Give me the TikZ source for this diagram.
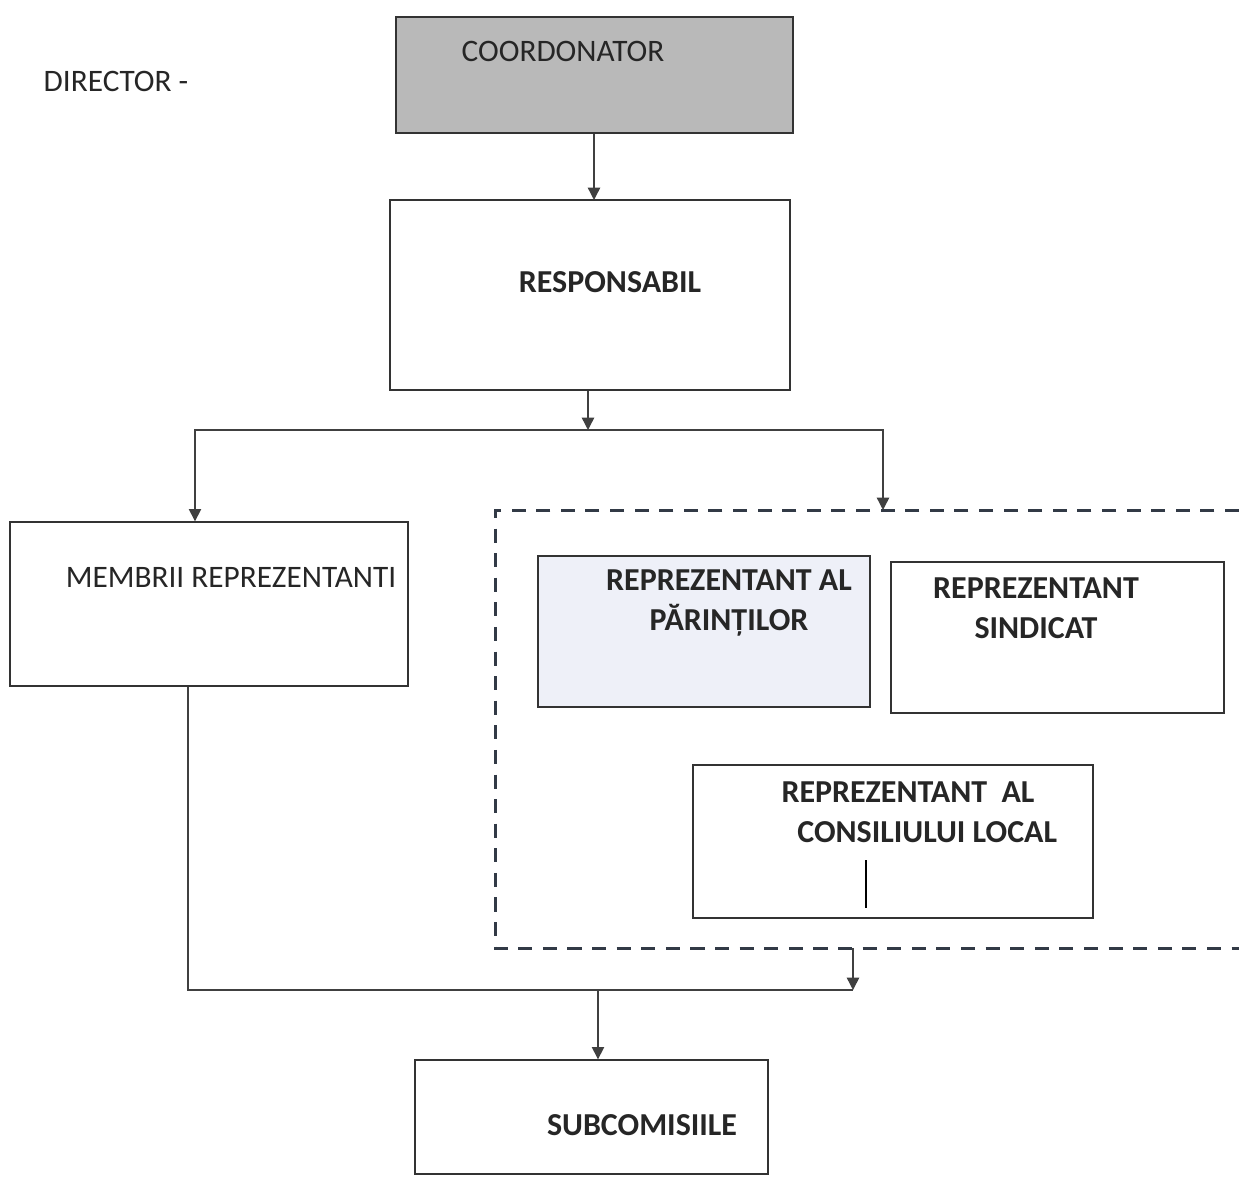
\documentclass[tikz,border=0pt]{standalone}
\usepackage{fontspec}
\setmainfont{Carlito}
\usetikzlibrary{arrows.meta}

\begin{document}
\begin{tikzpicture}[x=0.02cm, y=-0.02cm,
    box/.style={draw=black!80, line width=0.8pt, inner sep=0pt},
    lbl/.style={font=\fontsize{17.8}{22}\selectfont, text=black!85, align=center, inner sep=0pt},
    blbl/.style={lbl, font=\fontsize{18.2}{22.5}\selectfont\bfseries},
    arr/.style={-{Triangle[width=7pt,length=7pt]}, line width=0.8pt, draw=black!75},
    frame/.style={draw={rgb,255:red,50;green,58;blue,70}, line width=1.7pt, dash pattern=on 8pt off 6pt}]
  \useasboundingbox (0,0) rectangle (1239,1176);

  \node[box, fill=gray!55, minimum width=7.94cm, minimum height=2.32cm] (coord) at (594.5,75) {};
  \node[box, minimum width=8cm, minimum height=3.8cm] (resp) at (590,295) {};
  \node[box, minimum width=7.96cm, minimum height=3.28cm] (membrii) at (209,604) {};
  \node[box, fill={rgb,255:red,238;green,240;blue,248}, minimum width=6.64cm, minimum height=3.02cm] (parinti) at (704,631.5) {};
  \node[box, minimum width=6.66cm, minimum height=3.02cm] (sindicat) at (1057.5,637.5) {};
  \node[box, minimum width=8cm, minimum height=3.06cm] (consiliu) at (893,841.5) {};
  \node[box, minimum width=7.06cm, minimum height=2.28cm] (subcom) at (591.5,1117) {};

  \node[lbl] (director) at (116,81) {DIRECTOR -};
  \node[lbl] (coordT) at (563,51) {COORDONATOR};
  \node[blbl] (respT) at (610,282) {RESPONSABIL};
  \node[lbl] (membriiT) at (231,577) {MEMBRII REPREZENTANTI};
  \node[blbl] (parintiT) at (729,603) {REPREZENTANT AL\\PĂRINȚILOR};
  \node[blbl] (sindicatT) at (1036,608) {REPREZENTANT\\SINDICAT};
  \node[blbl] (consiliuT) at (908,812) {REPREZENTANT\ \ AL\hspace{1.2em}\\\hspace{1.2em}CONSILIULUI LOCAL};
  \node[blbl] (subcomT) at (642,1125) {SUBCOMISIILE};

  % dashed group, open on the right
  \draw[frame] (1239,510) -- (495,510) -- (495,948) -- (1239,948);
  \draw[line width=0.8pt] (866,860) -- (866,908);

  \coordinate (split) at (588,430);
  \coordinate (frametop) at (883,510);
  \coordinate (framebot) at (853,948);
  \coordinate (join) at (853,990);
  \coordinate (merge) at (598,990);

  \draw[arr] (coord.south -| 594,0) -- (594,200);
  \draw[arr] (resp.south -| split) -- (split);
  \draw[arr] (split) -| ([xshift=-0.28cm]membrii.north);
  \draw[arr] (split) -| (frametop);
  \draw[line width=0.8pt, black!75] ([xshift=-0.42cm]membrii.south) |- (join);
  \draw[arr] (framebot) -- (join);
  \draw[arr] (merge) -- (merge |- subcom.north);
\end{tikzpicture}
\end{document}
